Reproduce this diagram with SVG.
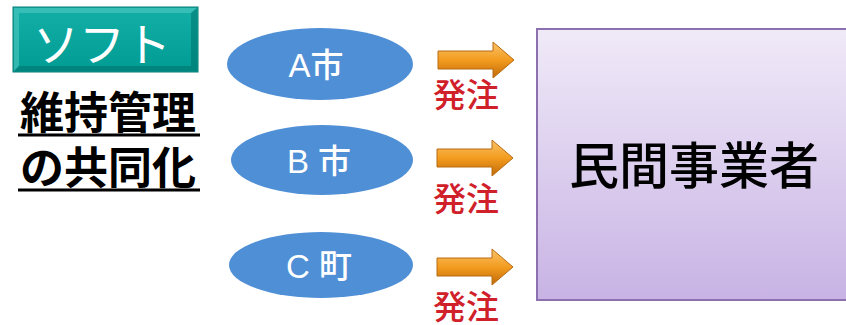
<svg xmlns="http://www.w3.org/2000/svg" width="846" height="325" viewBox="0 0 846 325">
<defs>
<linearGradient id="gTeal" x1="0" y1="0" x2="0" y2="1">
<stop offset="0" stop-color="#14b0a8"/><stop offset="1" stop-color="#009c94"/>
</linearGradient>
<linearGradient id="gBox" x1="0" y1="0" x2="0" y2="1">
<stop offset="0" stop-color="#f0eaf8"/><stop offset="1" stop-color="#c8b3e4"/>
</linearGradient>
<linearGradient id="gArrow" x1="0" y1="0" x2="0" y2="1">
<stop offset="0" stop-color="#f9c36a"/><stop offset="0.5" stop-color="#f39c1f"/><stop offset="1" stop-color="#c06a0a"/>
</linearGradient>
<path id="arrow" d="M0,-9 L55,-9 L55,-18 L76,0 L55,18 L55,9 L0,9 Z"/>
</defs>
<style>
.jp{font-family:"Liberation Sans","Noto Sans CJK JP",sans-serif}
.ell{fill:#4f8fd6}
.ellt{fill:#ffffff;font-size:33px;font-weight:500;text-anchor:middle}
.ord{fill:#d0202a;font-size:33px;font-weight:500}
.arr{fill:url(#gArrow);stroke:#b86a10;stroke-width:1}
</style>
<g id="soft">
<rect x="13" y="7" width="185" height="65" fill="url(#gTeal)" stroke="#0a7a74" stroke-width="1"/>
<path d="M14,8 L197,8 L191,13 L19,13 L19,66 L14,71 Z" fill="#4fc8c2" opacity="0.6"/>
<path d="M197,8 L197,71 L14,71 L19,66 L191,66 L191,13 Z" fill="#006e68" opacity="0.5"/>
<text x="102" y="61" class="jp" fill="#ffffff" font-size="46" text-anchor="middle">ソフト</text>
</g>
<g id="title">
<text x="108" y="129" class="jp" fill="#000" font-size="44" font-weight="bold" text-anchor="middle">維持管理</text>
<line x1="18" y1="135" x2="200" y2="135" stroke="#000" stroke-width="3"/>
<text x="108" y="184" class="jp" fill="#000" font-size="44" font-weight="bold" text-anchor="middle">の共同化</text>
<line x1="18" y1="190" x2="200" y2="190" stroke="#000" stroke-width="3"/>
</g>
<g id="nodeA">
<ellipse cx="320" cy="64" rx="93" ry="36" class="ell"/>
<text x="316" y="77" class="jp ellt">A市</text>
</g>
<g id="nodeB">
<ellipse cx="322" cy="160" rx="91" ry="35" class="ell"/>
<text x="319" y="173" class="jp ellt">B 市</text>
</g>
<g id="nodeC">
<ellipse cx="321" cy="265" rx="92" ry="33" class="ell"/>
<text x="319" y="278" class="jp ellt">C 町</text>
</g>
<g id="connectors">
<use href="#arrow" x="438" y="60" class="arr"/>
<use href="#arrow" x="437" y="158" class="arr"/>
<use href="#arrow" x="437" y="267" class="arr"/>
<text x="433" y="107" class="jp ord">発注</text>
<text x="433" y="211" class="jp ord">発注</text>
<text x="433" y="319" class="jp ord">発注</text>
</g>
<g id="contractor">
<rect x="537" y="29" width="320" height="271" fill="url(#gBox)" stroke="#8c70b0" stroke-width="2"/>
<text x="694" y="184" class="jp" fill="#000" font-size="50" font-weight="500" text-anchor="middle">民間事業者</text>
</g>
</svg>
